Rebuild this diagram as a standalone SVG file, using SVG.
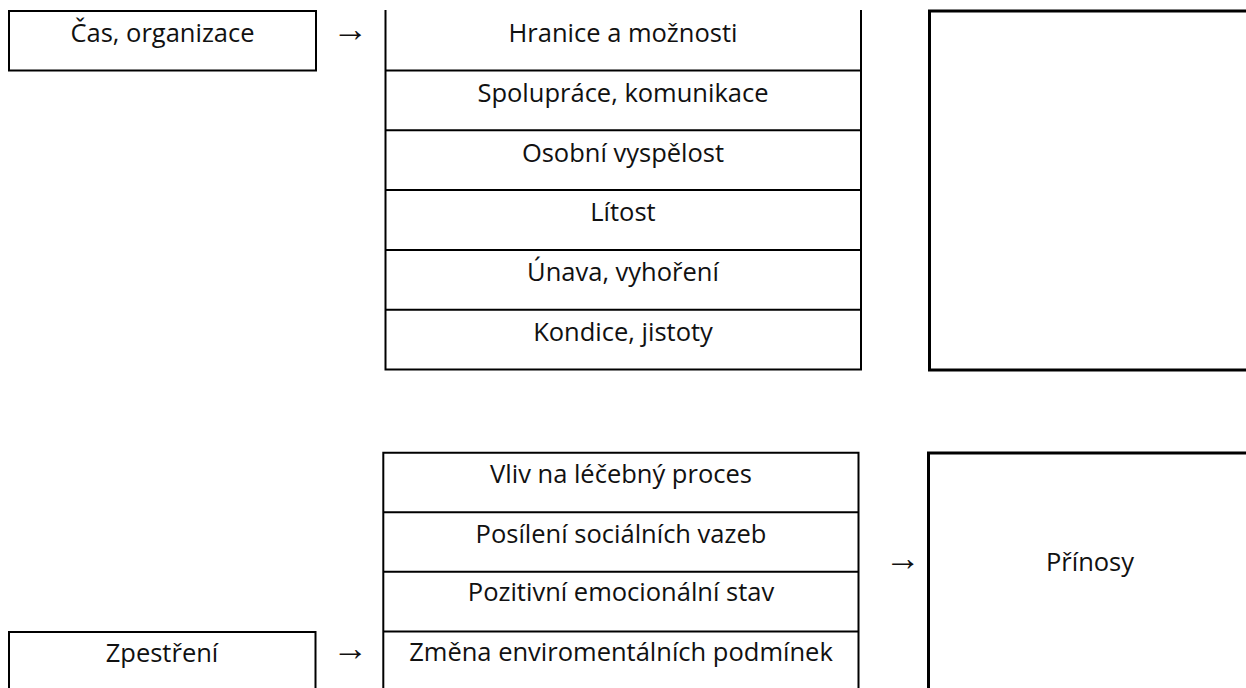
<svg xmlns="http://www.w3.org/2000/svg" width="1246" height="688" viewBox="0 0 1246 688">
<style>
.bx{fill:none;stroke:#000;stroke-width:2}
.bxk{fill:none;stroke:#000;stroke-width:3}
.ln{stroke:#000;stroke-width:2;fill:none}
.t{font-family:"Open Sans","Liberation Sans",sans-serif;font-size:25.5px;fill:#111;text-anchor:middle}
.ar{font-family:"Liberation Sans","DejaVu Sans",sans-serif;font-size:36px;fill:#111;text-anchor:middle}
</style>
<rect width="1246" height="688" fill="#fff"/>
<g id="cas">
<rect class="bx" x="9" y="11" width="307" height="59.5"/>
<text class="t" x="162.5" y="42">Čas, organizace</text>
</g>
<g id="zpestreni">
<rect class="bx" x="9" y="632" width="306.5" height="70"/>
<text class="t" x="162" y="662">Zpestření</text>
</g>
<g id="stack-top">
<path class="ln" d="M385.5,10 V369.5 H861 V10 M385.5,70.5 H861 M385.5,130.3 H861 M385.5,190.1 H861 M385.5,249.9 H861 M385.5,309.7 H861"/>
<text class="t" x="623" y="42">Hranice a možnosti</text>
<text class="t" x="623" y="102">Spolupráce, komunikace</text>
<text class="t" x="623" y="162">Osobní vyspělost</text>
<text class="t" x="623" y="221">Lítost</text>
<text class="t" x="623" y="281">Únava, vyhoření</text>
<text class="t" x="623" y="341">Kondice, jistoty</text>
</g>
<g id="stack-bottom">
<path class="ln" d="M383.3,700 V452.7 H858.5 V700 M383.3,512.3 H858.5 M383.3,571.7 H858.5 M383.3,631.5 H858.5"/>
<text class="t" x="621" y="483">Vliv na léčebný proces</text>
<text class="t" x="621" y="543">Posílení sociálních vazeb</text>
<text class="t" x="621" y="601">Pozitivní emocionální stav</text>
<text class="t" x="621" y="661">Změna enviromentálních podmínek</text>
</g>
<g id="box-top-right">
<rect class="bxk" x="929.5" y="11" width="330" height="359"/>
</g>
<g id="prinosy">
<rect class="bxk" x="928.5" y="453" width="330" height="260"/>
<text class="t" x="1090" y="571">Přínosy</text>
</g>
<g id="connectors">
<text class="ar" x="350.5" y="41">→</text>
<text class="ar" x="350.5" y="660">→</text>
<text class="ar" x="903" y="570">→</text>
</g>
</svg>
